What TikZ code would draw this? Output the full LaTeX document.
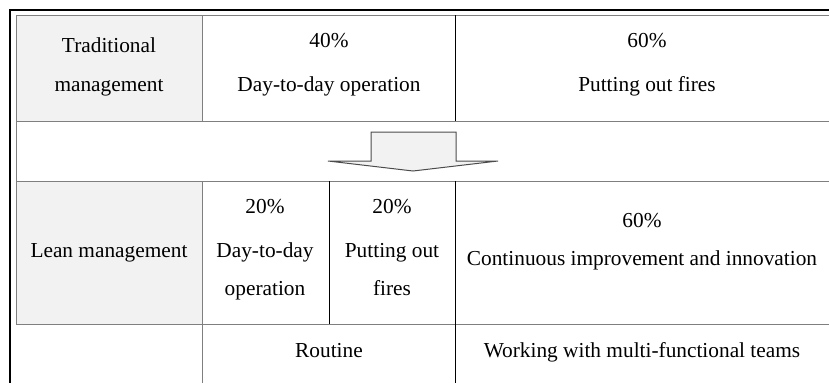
\documentclass[tikz,border=0pt]{standalone}
\usepackage{fontspec}
\setmainfont{Liberation Serif}
\definecolor{cellgray}{HTML}{F2F2F2}
\definecolor{rulegray}{HTML}{7F7F7F}
\tikzset{
  txt/.style={anchor=base, inner sep=0pt, font=\fontsize{16}{19}\selectfont},
  grule/.style={rulegray, line width=0.75pt},
  krule/.style={black, line width=0.75pt}
}
\begin{document}
\begin{tikzpicture}[x=0.75pt,y=0.75pt,yscale=-1,xscale=1]
\useasboundingbox (0,0) rectangle (829,383);

% grey header cells
\fill [cellgray] (16,15) rectangle (202,121);
\fill [cellgray] (16,181) rectangle (202,324);

% outer frame
\draw [line width=1.5pt] (829,10) -- (10,10) -- (10,383);

% rows
\draw [grule] (16,15) -- (829,15);
\draw [grule] (16,121) -- (829,121);
\draw [grule] (16,181) -- (829,181);
\draw [grule] (16,324) -- (829,324);

% columns
\draw [grule] (16,15) -- (16,324);
\draw [grule] (202,15) -- (202,121);
\draw [grule] (202,181) -- (202,383);
\draw [krule] (455,15) -- (455,121);
\draw [krule] (455,181) -- (455,383);
\draw [krule] (329,181) -- (329,324);

% arrow
\draw [rulegray!60!black, fill=cellgray, line width=0.75pt] (371,132) -- (456,132) -- (456,161) -- (498,161) -- (413,171) -- (328,161) -- (371,161) -- cycle;

% traditional
\node [txt] (tradA) at (109,52) {Traditional};
\node [txt] (tradB) at (109,91) {management};
\node [txt] (pctDay) at (329,47) {40\%};
\node [txt] (dayOp) at (329,91) {Day-to-day operation};
\node [txt] (pctFire) at (647,47) {60\%};
\node [txt] (fires) at (647,91) {Putting out fires};

% lean
\node [txt] (leanM) at (109,257) {Lean management};
\node [txt] (pctDayL) at (265,213) {20\%};
\node [txt] (dayLa) at (265,257) {Day-to-day};
\node [txt] (dayLb) at (265,295) {operation};
\node [txt] (pctFireL) at (392,213) {20\%};
\node [txt] (fireLa) at (392,257) {Putting out};
\node [txt] (fireLb) at (392,295) {fires};
\node [txt] (pctImp) at (642,227) {60\%};
\node [txt] (imp) at (642,265) {Continuous improvement and innovation};

% bottom row
\node [txt] (routine) at (329,357) {Routine};
\node [txt] (teams) at (642,357) {Working with multi-functional teams};

\end{tikzpicture}
\end{document}
